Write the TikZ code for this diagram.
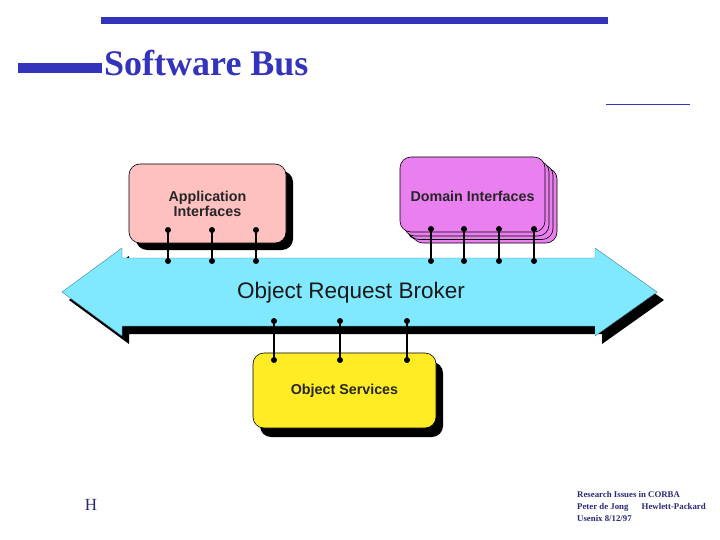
\documentclass[tikz,border=0pt]{standalone}
\usepackage{fontspec}
\setmainfont{Liberation Serif}
\newfontfamily\arialf{Liberation Sans}
\usetikzlibrary{calc}
\definecolor{slideblue}{RGB}{51,51,187}
\definecolor{footblue}{RGB}{40,40,120}
\definecolor{orbcyan}{RGB}{128,232,255}
\definecolor{apppink}{RGB}{255,192,192}
\definecolor{domviolet}{RGB}{234,128,240}
\definecolor{svcyellow}{RGB}{255,236,36}
\tikzset{
  x=1pt, y=-1pt,
  boxbase/.style={draw=black, line width=0.6pt, rounded corners=11pt, inner sep=0pt},
  shadowbox/.style={fill=black, rounded corners=11pt, inner sep=0pt, draw=none},
  pinline/.style={line width=1.4pt, black},
  pindot/.style={fill=black, circle, inner sep=0pt, minimum size=6pt},
  lbl/.style={font=\arialf\bfseries\fontsize{14.3}{14.5}\selectfont, align=center, text=black!85},
}
\begin{document}
\begin{tikzpicture}
\useasboundingbox (0,0) rectangle (720,540);
% header decorations
\fill[slideblue] (101,17) rectangle (608,24);
\fill[slideblue] (18,63) rectangle (102,73);
\draw[slideblue, line width=1pt] (606,105) -- (690,105);
\node[anchor=base west, inner sep=0pt, text=slideblue, font=\bfseries\fontsize{36}{36}\selectfont] (title) at (104,76) {Software Bus};

% ORB arrow: shadow then body
\fill[black] (69,300) -- (129,256) -- (129,266) -- (602,266) -- (602,256) -- (664,300) -- (602,344) -- (602,334) -- (129,334) -- (129,344) -- cycle;
\fill[orbcyan, draw={rgb,255:red,60;green,130;blue,150}, line width=0.4pt] (62,292) -- (122,248) -- (122,258) -- (595,258) -- (595,248) -- (657,292) -- (595,336) -- (595,326) -- (122,326) -- (122,336) -- cycle;
\node[font=\arialf\fontsize{22.5}{22.5}\selectfont, text=black!90] (orb) at (351,293) {Object Request Broker};

% Application Interfaces
\node[shadowbox, minimum width=157pt, minimum height=79pt] (appsh) at (214.5,210.5) {};
\node[boxbase, fill=apppink, minimum width=157pt, minimum height=79pt] (app) at (207.5,203.5) {};
\node[lbl] (applbl) at (207.5,204) {Application\\Interfaces};

% Domain Interfaces (stacked)
\node[shadowbox, minimum width=145pt, minimum height=75pt] (domsh) at (479.5,202.5) {};
\node[boxbase, fill=domviolet, minimum width=145pt, minimum height=75pt] (dom3) at (484.5,205.5) {};
\node[boxbase, fill=domviolet, minimum width=145pt, minimum height=75pt] (dom2) at (480.5,202) {};
\node[boxbase, fill=domviolet, minimum width=145pt, minimum height=75pt] (dom1) at (476.5,198.5) {};
\node[boxbase, fill=domviolet, minimum width=145pt, minimum height=75pt] (dom) at (472.5,194.5) {};
\node[lbl] (domlbl) at (472.5,196) {Domain Interfaces};

% Object Services
\node[shadowbox, minimum width=183pt, minimum height=75pt] (svcsh) at (351.5,399.5) {};
\node[boxbase, fill=svcyellow, minimum width=183pt, minimum height=75pt] (svc) at (344.5,390.5) {};
\node[lbl] (svclbl) at (344.5,391) {Object Services};

% pins: application
\foreach \i/\x in {1/168,2/212,3/256}{
  \node[pindot] (at\i) at (\x,230) {};
  \node[pindot] (ab\i) at (\x,261) {};
  \draw[pinline] (at\i.center) -- (ab\i.center);
}
% pins: domain
\foreach \i/\x in {1/431,2/464,3/499,4/534}{
  \node[pindot] (dt\i) at (\x,229) {};
  \node[pindot] (db\i) at (\x,261) {};
  \draw[pinline] (dt\i.center) -- (db\i.center);
}
% pins: services
\foreach \i/\x in {1/274,2/340,3/407}{
  \node[pindot] (st\i) at (\x,321) {};
  \node[pindot] (sb\i) at (\x,360) {};
  \draw[pinline] (st\i.center) -- (sb\i.center);
}

% footer
\node[text=footblue, font=\fontsize{17}{17}\selectfont, inner sep=0pt] (hp) at (91,505) {H};
\node[anchor=north west, align=left, inner sep=0pt, text=footblue, font=\bfseries\fontsize{8.8}{12}\selectfont] (foot) at (577,491) {Research Issues in CORBA\\Peter de Jong\quad\enspace Hewlett-Packard\\Usenix 8/12/97};
\end{tikzpicture}
\end{document}
